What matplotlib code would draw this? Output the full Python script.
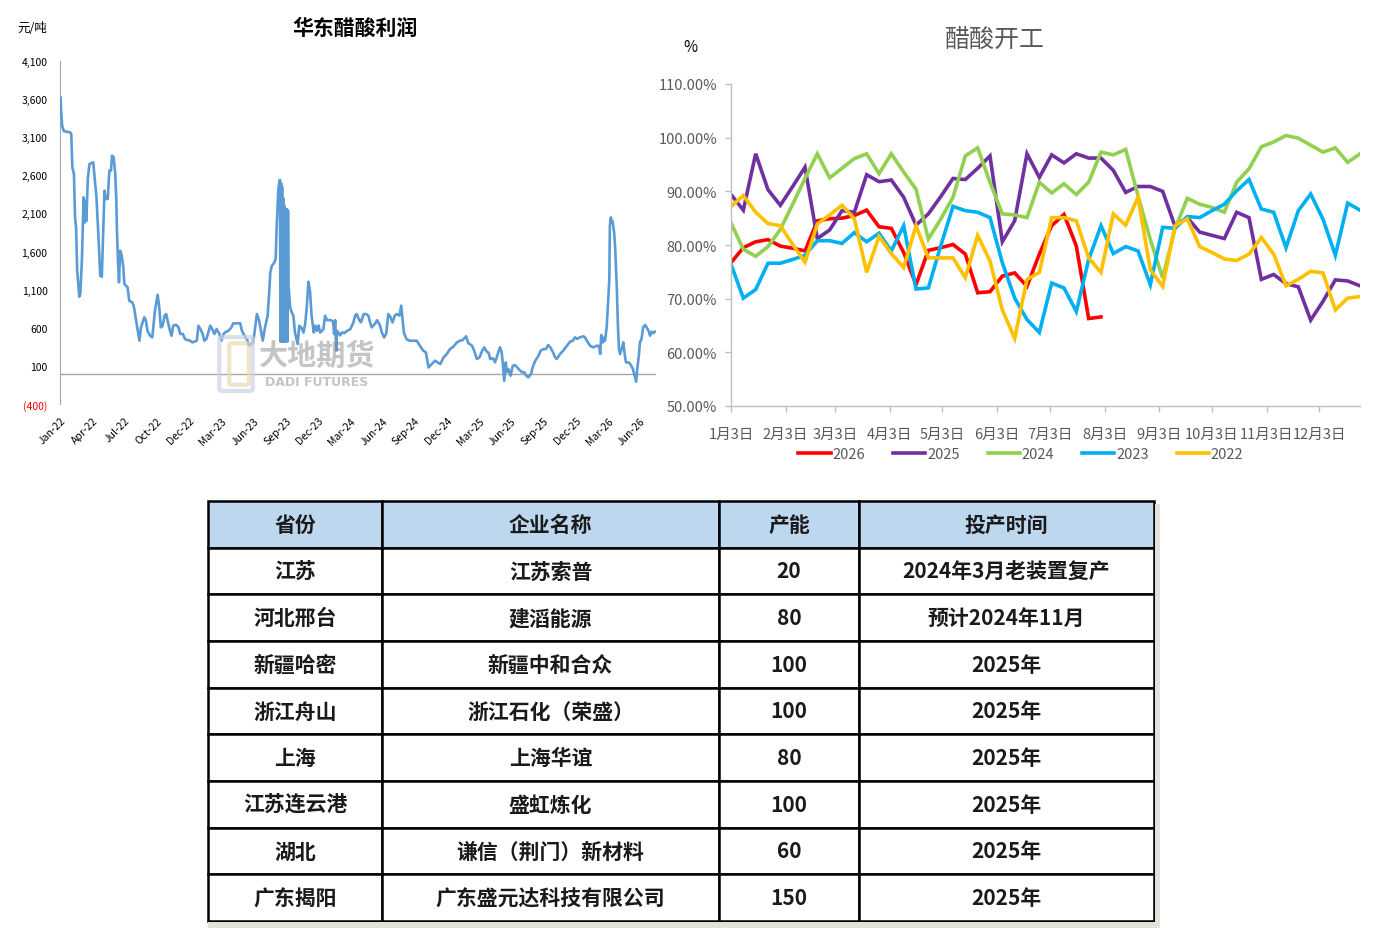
import matplotlib
matplotlib.use("Agg")
import matplotlib.pyplot as plt
from matplotlib.patches import Rectangle, FancyBboxPatch

plt.rcParams['font.family'] = ['Noto Sans CJK SC', 'DejaVu Sans']
NARROW = ['Liberation Sans Narrow', 'Noto Sans CJK SC', 'DejaVu Sans']

W, H = 1374, 929

# ---------------- Left chart data: East China acetic acid profit (trading-day index, yuan/ton)
profit_day = [0, 1, 3, 6, 18, 20, 22, 25, 27, 29, 31, 35, 37, 40, 43, 45, 47, 48, 51, 54,
              61, 64, 67, 71, 74, 77, 79, 82, 84, 88, 91, 94, 96, 99, 102, 104, 105, 107, 109, 111,
              114, 117, 119, 125, 128, 134, 137, 142, 147, 150, 156, 159, 162, 167, 171, 176, 181, 184, 187, 190,
              194, 197, 200, 204, 207, 210, 215, 220, 223, 228, 232, 236, 241, 246, 250, 254, 257, 261, 265, 268,
              272, 279, 283, 287, 291, 296, 300, 304, 307, 313, 318, 322, 335, 338, 344, 348, 352, 355, 359,
              362, 366, 370, 373, 377, 381, 386, 389, 391, 394, 398, 401, 403, 406, 408, 409, 410, 411, 412, 413,
              414, 415, 416, 417, 418, 419, 420, 422, 423, 424, 425, 428, 431, 434, 437, 442, 445, 449, 453, 456,
              459, 462, 465, 468, 472, 475, 478, 481, 484, 490, 493, 497, 500, 504, 508, 510, 512, 514, 515, 518,
              521, 525, 529, 534, 540, 546, 549, 552, 557, 560, 565, 570, 574, 577, 580, 586, 590, 595, 599, 603,
              607, 611, 615, 619, 623, 627, 632, 635, 637, 640, 645, 651, 658, 664, 670, 676, 681, 686, 692, 698,
              702, 708, 714, 720, 726,
              732, 739, 745, 750, 756, 760, 767, 771, 776, 781, 786, 790, 793, 798, 801, 806, 810, 813, 819, 822,
              824, 826, 827, 830, 832, 835, 839, 843, 847, 851, 857, 860, 864, 868, 872, 877, 880, 885, 891, 895,
              900, 905, 909, 913, 918, 922, 925, 931, 937, 944, 950, 955, 959, 963, 968, 975, 978, 981, 987, 993,
              1000, 1004, 1006, 1008, 1011, 1013, 1015, 1018, 1020, 1023, 1024, 1026, 1027, 1029, 1032, 1034, 1037, 1039, 1041, 1043,
              1046, 1049, 1052, 1054, 1059, 1062, 1067, 1071, 1073, 1075, 1078, 1080, 1083, 1086, 1090, 1093, 1096, 1099, 1102, 1105,
              1108]
profit_val = [3620, 3460, 3250, 3180, 3164, 3140, 2705, 2617, 2049, 1917, 1350, 1008, 1050, 1524, 2311, 1980, 2268, 2000, 2574, 2748,
              2770, 2530, 2310, 1743, 1284, 1270, 1743, 2399, 2290, 2290, 2661, 2661, 2858, 2835, 2617, 2268, 1918, 1480, 1196, 1612,
              1550, 1393, 1174, 1130, 956, 930, 868, 649, 431, 606, 737, 700, 562, 496, 474, 824, 1034, 868, 606, 620,
              760, 780, 680, 562, 496, 627, 640, 606, 518, 520, 453, 440, 431, 409, 420, 431, 627, 580, 518, 431,
              453, 627, 580, 518, 584, 520, 431, 520, 540, 562, 600, 658, 658, 562, 480, 440, 365, 380, 409,
              560, 780, 700, 584, 431, 600, 758, 1063, 1327, 1414, 1450, 1502, 1939, 2420, 2517, 2540, 420, 2500, 420, 2450,
              420, 2300, 420, 2200, 420, 2100, 420, 2158, 420, 2136, 1152, 867, 800, 757, 538, 387, 627, 600, 538, 650,
              867, 1204, 1086, 757, 538, 627, 560, 630, 538, 580, 757, 700, 700, 700, 680, 517, 700, 300, 560, 538,
              500, 540, 530, 560, 580, 670, 757, 780, 700, 670, 780, 780, 757, 670, 605, 650, 700, 640, 538, 473,
              520, 780, 740, 670, 760, 780, 760, 890, 757, 538, 450, 430, 430, 430, 363, 300, 278, 80, 124, 168,
              150, 124, 211, 255, 321,
              350, 409, 431, 440, 488, 400, 365, 300, 190, 212, 300, 343, 300, 269, 190, 200, 146, 212, 343, 290,
              168, 0, -95, 146, 20, 59, -28, 102, 110, 80, 37, 15, 20, -28, -50, -7, 81, 168, 234, 300,
              321, 321, 374, 343, 278, 212, 190, 255, 300, 365, 418, 431, 474, 455, 474, 488, 470, 431, 365, 343,
              365, 360, 256, 505, 409, 470, 431, 606, 846, 1240, 1940, 2049, 1983, 2000, 1852, 1633, 1108, 627, 321, 256,
              321, 409, 234, 146, 146, 124, 59, -50, -107, 59, 234, 409, 452, 606, 636, 600, 562, 496, 549, 530,
              549]
profit_tick_labels = ['Jan-22', 'Apr-22', 'Jul-22', 'Oct-22', 'Dec-22', 'Mar-23', 'Jun-23', 'Sep-23',
                      'Dec-23', 'Mar-24', 'Jun-24', 'Sep-24', 'Dec-24', 'Mar-25', 'Jun-25', 'Sep-25',
                      'Dec-25', 'Mar-26', 'Jun-26']

# ---------------- Right chart data: acetic acid operating rate (%), weekly from Jan 3
rate_2026 = [76.7, 79.5, 80.6, 81.0, 79.8, 79.4, 78.9, 84.5, 84.9, 85.0, 85.5, 86.5, 83.4, 83.1, 78.6, 72.6,
             79.0, 79.5, 80.1, 78.3, 71.1, 71.3, 74.2, 74.8, 72.3, 78.3, 83.6, 85.7, 79.8, 66.3, 66.6]
rate_2025 = [89.4, 86.5, 97.0, 90.3, 87.4, 90.9, 94.5, 81.2, 82.8, 86.4, 86.1, 93.1, 91.8, 92.1, 88.9, 83.7,
             85.8, 89.0, 92.4, 92.2, 94.3, 96.6, 80.6, 84.5, 97.0, 92.6, 96.8, 95.3, 97.0, 96.2, 96.2, 93.9,
             89.8, 90.9, 90.9, 90.0, 83.5, 85.1, 82.4, 81.8, 81.2, 86.1, 85.1, 73.6, 74.5, 72.8, 72.2, 66.0,
             69.5, 73.5, 73.3, 72.4]
rate_2024 = [84.1, 79.2, 77.9, 79.7, 82.9, 87.6, 92.4, 97.0, 92.5, 94.3, 96.1, 97.0, 93.3, 97.0, 93.6, 90.4,
             81.1, 84.8, 88.9, 96.6, 98.1, 91.7, 85.8, 85.6, 85.1, 91.7, 89.7, 91.4, 89.4, 91.7, 97.3, 96.8,
             97.8, 89.2, 81.0, 73.9, 83.0, 88.7, 87.6, 87.0, 86.1, 91.7, 94.2, 98.3, 99.2, 100.4, 99.9, 98.6,
             97.3, 98.1, 95.4, 97.0]
rate_2023 = [76.4, 70.1, 71.7, 76.6, 76.6, 77.3, 78.1, 80.8, 80.8, 80.3, 82.3, 80.6, 82.2, 78.9, 83.6, 71.8,
             72.0, 79.8, 87.2, 86.4, 86.1, 85.1, 76.7, 70.1, 66.1, 63.7, 72.9, 72.0, 67.6, 77.3, 83.6, 78.4,
             79.7, 78.9, 72.6, 83.3, 83.1, 85.3, 85.1, 86.4, 87.6, 90.1, 92.2, 86.7, 86.1, 79.5, 86.4, 89.5,
             84.8, 78.1, 87.8, 86.5]
rate_2022 = [87.2, 89.2, 86.1, 84.0, 83.6, 80.1, 76.8, 83.9, 85.6, 87.4, 84.9, 74.9, 81.6, 78.4, 75.8, 83.6,
             77.6, 77.6, 77.6, 73.9, 81.8, 77.0, 67.9, 62.6, 73.6, 74.9, 85.1, 85.1, 84.5, 77.6, 74.9, 85.8,
             83.7, 88.9, 75.4, 72.3, 83.6, 84.9, 79.7, 78.6, 77.4, 77.1, 78.3, 81.4, 78.3, 72.4, 73.6, 75.1,
             74.8, 67.9, 70.1, 70.4]
rate_years = ['2026', '2025', '2024', '2023', '2022']
rate_colors = ['#FF0000', '#7030A0', '#92D050', '#00B0F0', '#FFC000']
month_tick_days = [0, 31, 59, 90, 120, 151, 181, 212, 243, 273, 304, 334]
month_tick_labels = ['1月3日', '2月3日', '3月3日', '4月3日', '5月3日', '6月3日',
                     '7月3日', '8月3日', '9月3日', '10月3日', '11月3日', '12月3日']

# ---------------- Table data
table_header = ['省份', '企业名称', '产能', '投产时间']
provinces = ['江苏', '河北邢台', '新疆哈密', '浙江舟山', '上海', '江苏连云港', '湖北', '广东揭阳']
companies = ['江苏索普', '建滔能源', '新疆中和合众', '浙江石化（荣盛）', '上海华谊', '盛虹炼化',
             '谦信（荆门）新材料', '广东盛元达科技有限公司']
capacity = [20, 80, 100, 100, 80, 100, 60, 150]
start_time = ['2024年3月老装置复产', '预计2024年11月', '2025年', '2025年', '2025年', '2025年', '2025年', '2025年']

fig = plt.figure(figsize=(W / 100, H / 100), dpi=100)
fig.patch.set_facecolor('white')

# ================= Left chart
ax1 = fig.add_axes([60 / W, 1 - 405 / H, 596 / W, 343 / H])
ax1.plot(profit_day, profit_val, color='#5B9BD5', lw=1.9, solid_joinstyle='round', zorder=3)
ax1.axhline(0, color='#A6A6A6', lw=1.0, zorder=2)
ax1.set_ylim(-400, 4100)
ax1.set_xlim(-1, 1110)
yt = list(range(-400, 4101, 500))
ax1.set_yticks(yt)
ax1.set_yticklabels([f'({abs(v):,})' if v < 0 else f'{v:,}' for v in yt], fontsize=7.5)
for lab, v in zip(ax1.get_yticklabels(), yt):
    if v < 0:
        lab.set_color('#FF0000')
ax1.set_xticks(list(range(0, 60 * len(profit_tick_labels), 60)))
ax1.set_xticklabels(profit_tick_labels, rotation=45, ha='right', rotation_mode='anchor', fontsize=7.5)
ax1.tick_params(axis='both', length=0)
ax1.tick_params(axis='y', pad=9)
ax1.tick_params(axis='x', pad=8)
for s in ['top', 'right', 'bottom']:
    ax1.spines[s].set_visible(False)
ax1.spines['left'].set_color('#A6A6A6')
ax1.patch.set_alpha(0)

fig.text(355 / W, 1 - 28 / H, '华东醋酸利润', ha='center', va='center', fontsize=15, fontweight='bold')
fig.text(32 / W, 1 - 28 / H, '元/吨', ha='center', va='center', fontsize=9)

# watermark
fig.patches.append(FancyBboxPatch((222 / W, 1 - 390 / H), 28 / W, 50 / H,
                                  boxstyle='round,pad=0.002', transform=fig.transFigure,
                                  fill=False, ec='#C9D3E3', lw=3, alpha=0.7, zorder=1))
fig.patches.append(FancyBboxPatch((232 / W, 1 - 384 / H), 14 / W, 38 / H,
                                  boxstyle='round,pad=0.002', transform=fig.transFigure,
                                  fill=False, ec='#E8D9B0', lw=3, alpha=0.7, zorder=1))
fig.text(317 / W, 1 - 356 / H, '大地期货', ha='center', va='center', fontsize=21,
         fontweight='bold', color='#8A8A8A', alpha=0.5)
fig.text(317 / W, 1 - 383 / H, 'DADI FUTURES', ha='center', va='center', fontsize=9,
         fontweight='bold', color='#8A8A8A', alpha=0.5, family=['DejaVu Sans'])

# ================= Right chart
ax2 = fig.add_axes([731 / W, 1 - 407 / H, 629 / W, 322 / H])
series = [rate_2026, rate_2025, rate_2024, rate_2023, rate_2022]
handles = []
for yr, vals, col in zip(rate_years, series, rate_colors):
    days = [7 * i for i in range(len(vals))]
    ln, = ax2.plot(days, vals, color=col, lw=2.6, solid_joinstyle='miter', label=yr)
    handles.append(ln)
ax2.set_ylim(50, 110)
ax2.set_xlim(0, 357)
yt2 = list(range(50, 111, 10))
ax2.set_yticks(yt2)
ax2.set_yticklabels([f'{v:.2f}%' for v in yt2], fontsize=10.5, color='#595959', family=NARROW)
ax2.set_xticks(month_tick_days)
ax2.set_xticklabels(month_tick_labels, fontsize=10.5, color='#595959', family=NARROW)
ax2.tick_params(axis='both', length=4, color='#BFBFBF', width=1, direction='out')
ax2.tick_params(axis='x', pad=11)
ax2.tick_params(axis='y', pad=6)
for s in ['top', 'right']:
    ax2.spines[s].set_visible(False)
for s in ['left', 'bottom']:
    ax2.spines[s].set_color('#BFBFBF')
    ax2.spines[s].set_linewidth(1)

fig.text(995 / W, 1 - 40 / H, '醋酸开工', ha='center', va='center', fontsize=18, color='#595959')
fig.text(690 / W, 1 - 48 / H, '%', ha='center', va='center', fontsize=11, color='#000000')

fig.legend(handles=handles, labels=rate_years, loc='center', bbox_to_anchor=(1021 / W, 1 - 455 / H),
           ncol=5, frameon=False, handlelength=2.2, handletextpad=0.15, columnspacing=1.9,
           prop={'family': NARROW, 'size': 10.5}, labelcolor='#595959')

# ================= Table
tw = [174, 337, 140, 295]
ax3 = fig.add_axes([208 / W, 1 - 922 / H, 946 / W, 420 / H])
ax3.axis('off')
cell_text = [[p, c, str(cap), t] for p, c, cap, t in zip(provinces, companies, capacity, start_time)]
tbl = ax3.table(cellText=cell_text, colLabels=table_header, colWidths=[w / sum(tw) for w in tw],
                cellLoc='center', bbox=[0, 0, 1, 1])
tbl.auto_set_font_size(False)
for (r, c), cell in tbl.get_celld().items():
    cell.set_edgecolor('#000000')
    cell.set_linewidth(1.8)
    cell.get_text().set_fontsize(15)
    cell.get_text().set_fontweight('bold')
    cell.get_text().set_color('#1A1A1A')
    if r == 0:
        cell.set_facecolor('#BDD7EE')
    else:
        cell.set_facecolor('white')

# table shadow
fig.patches.append(Rectangle((208 / W, 1 - 929 / H), 952 / W, 6 / H, transform=fig.transFigure,
                             fc='#E4E0DC', ec='none', zorder=0))
fig.patches.append(Rectangle((1155 / W, 1 - 929 / H), 5 / W, 424 / H, transform=fig.transFigure,
                             fc='#E4E0DC', ec='none', zorder=0))

fig.savefig('out.png', dpi=100, facecolor='white')
